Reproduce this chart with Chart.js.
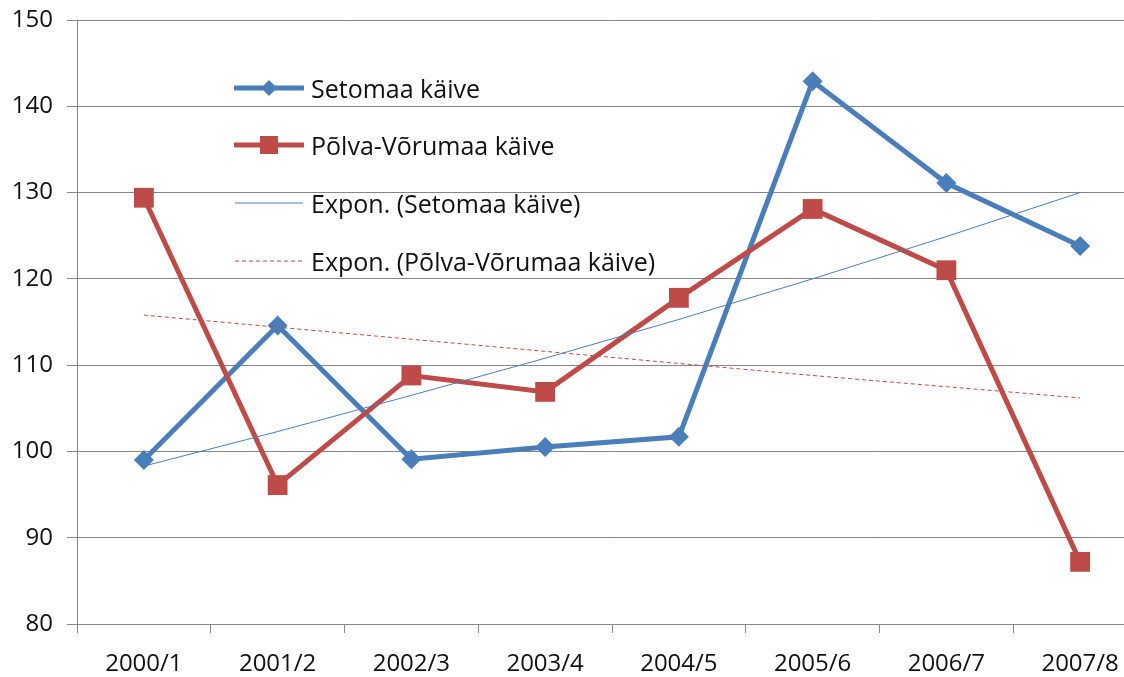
<!DOCTYPE html>
<html>
<head>
<meta charset="utf-8">
<script src="https://cdn.jsdelivr.net/npm/chart.js@4/dist/chart.umd.min.js"></script>
<style>
html,body{margin:0;padding:0;background:#fff;overflow:hidden;}
#wrap{position:relative;width:1161px;height:677px;}
#legend{position:absolute;left:234px;top:0;font-family:"Open Sans",sans-serif;font-size:25px;color:#111;}
.row{position:absolute;left:0;height:30px;white-space:nowrap;display:flex;align-items:center;}
.row svg{display:block;margin-right:7px;}
</style>
</head>
<body>
<div id="wrap">
<canvas id="c" width="1161" height="677"></canvas>
<div id="legend"></div>
</div>
<script>
const categories = ["2000/1","2001/2","2002/3","2003/4","2004/5","2005/6","2006/7","2007/8"];
const setomaa = [99.0, 114.6, 99.1, 100.5, 101.7, 142.9, 131.1, 123.8];
const polva = [129.4, 96.1, 108.8, 106.9, 117.8, 128.1, 121.0, 87.2];
const setomaaTrend = [98.3, 102.3, 106.5, 110.8, 115.3, 120.0, 124.9, 130.0];
const polvaTrend = [115.8, 114.4, 113.0, 111.6, 110.2, 108.8, 107.5, 106.2];
const yTicks = [80, 90, 100, 110, 120, 130, 140, 150];
const labels = ["Setomaa käive","Põlva-Võrumaa käive","Expon. (Setomaa käive)","Expon. (Põlva-Võrumaa käive)"];

const BLUE = "#4A7EBB", RED = "#BE4B48", GRID = "#868686";
const FONT = {family:"'Open Sans', sans-serif", size:24};

new Chart(document.getElementById("c"), {
  type: "line",
  data: {
    labels: categories,
    datasets: [
      {label: labels[2], data: setomaaTrend, borderColor: BLUE, borderWidth: 1, pointRadius: 0, tension: 0, order: 0},
      {label: labels[3], data: polvaTrend, borderColor: RED, borderWidth: 1, borderDash: [4,3], pointRadius: 0, tension: 0, order: 0},
      {label: labels[1], data: polva, borderColor: RED, backgroundColor: RED, borderWidth: 5, pointStyle: "rect", pointRadius: 14, pointBorderWidth: 0, tension: 0, order: 1},
      {label: labels[0], data: setomaa, borderColor: BLUE, backgroundColor: BLUE, borderWidth: 5, pointStyle: "rectRot", pointRadius: 10, pointBorderWidth: 0, tension: 0, order: 2}
    ]
  },
  options: {
    responsive: false,
    animation: false,
    layout: {padding: {top: 20, right: 4, left: 0, bottom: 0}},
    plugins: {legend: {display: false}, tooltip: {enabled: false}},
    scales: {
      x: {
        offset: true,
        grid: {offset: true, drawOnChartArea: false, drawTicks: true, tickLength: 9, color: GRID, lineWidth: 1},
        border: {color: GRID, width: 1},
        ticks: {font: FONT, color: "#111", padding: 17, maxRotation: 0, autoSkip: false},
        afterFit: s => { s.height = 53; s.paddingLeft = 0; s.paddingRight = 0; }
      },
      y: {
        min: 80, max: 150,
        afterBuildTicks: s => { s.ticks = yTicks.map(v => ({value: v})); },
        grid: {color: GRID, lineWidth: 1, tickLength: 10},
        border: {color: GRID, width: 1},
        ticks: {font: FONT, color: "#111", padding: 14},
        afterFit: s => { s.width = 77; s.paddingTop = 0; s.paddingBottom = 0; }
      }
    }
  }
});

const legendSyms = [
  '<svg width="70" height="24"><line x1="1" y1="12" x2="69" y2="12" stroke="'+BLUE+'" stroke-width="5" stroke-linecap="round"/><polygon points="35,4 43,12 35,20 27,12" fill="'+BLUE+'"/></svg>',
  '<svg width="70" height="24"><line x1="1" y1="12" x2="69" y2="12" stroke="'+RED+'" stroke-width="5" stroke-linecap="round"/><rect x="26" y="3" width="18" height="18" fill="'+RED+'"/></svg>',
  '<svg width="70" height="24"><line x1="1" y1="12" x2="69" y2="12" stroke="'+BLUE+'" stroke-width="1"/></svg>',
  '<svg width="70" height="24"><line x1="1" y1="12" x2="69" y2="12" stroke="'+RED+'" stroke-width="1" stroke-dasharray="4,3"/></svg>'
];
const rowY = [88, 145, 203, 261];
const lg = document.getElementById("legend");
labels.forEach((t, i) => {
  const d = document.createElement("div");
  d.className = "row";
  d.style.top = (rowY[i] - 15) + "px";
  d.innerHTML = legendSyms[i] + '<span>' + t + '</span>';
  lg.appendChild(d);
});
</script>
</body>
</html>
